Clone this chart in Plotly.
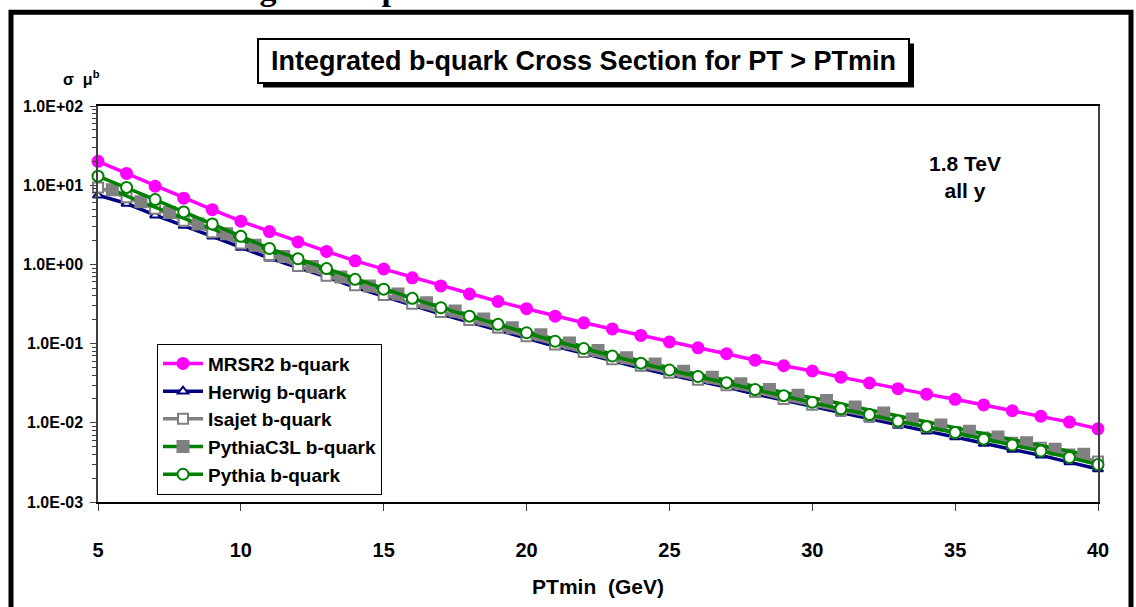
import plotly.graph_objects as go

# PTmin (GeV)
pt = list(range(5, 41))
pt_half = [x + 0.5 for x in range(5, 40)]

mrsr2 = [20.0, 14.1, 9.7, 6.85, 4.91, 3.51, 2.60, 1.92, 1.46, 1.11,
         0.875, 0.677, 0.535, 0.423, 0.340, 0.276, 0.222, 0.183, 0.153, 0.127,
         0.105, 0.0885, 0.0746, 0.0617, 0.0525, 0.0451, 0.0377, 0.0318, 0.0270, 0.0230,
         0.0198, 0.0168, 0.0142, 0.0121, 0.0102, 0.0084]
herwig = [7.46, 5.87, 4.18, 3.09, 2.26, 1.64, 1.20, 0.912, 0.695, 0.515,
          0.394, 0.306, 0.236, 0.187, 0.148, 0.117, 0.0927, 0.0753, 0.0604, 0.0491,
          0.0403, 0.0338, 0.0282, 0.0231, 0.0193, 0.0160, 0.0132, 0.0111, 0.00923, 0.00785,
          0.00662, 0.00547, 0.00461, 0.00388, 0.00321, 0.00261]
isajet = [9.37, 7.05, 5.06, 3.57, 2.55, 1.83, 1.31, 0.957, 0.721, 0.546,
          0.411, 0.318, 0.251, 0.198, 0.160, 0.124, 0.0972, 0.0781, 0.0634, 0.0525,
          0.0427, 0.0349, 0.0297, 0.0246, 0.0200, 0.0169, 0.0145, 0.0122, 0.0103, 0.00893,
          0.00764, 0.00653, 0.00558, 0.00484, 0.00397, 0.00325]
pythia_c3l = [8.75, 6.17, 4.51, 3.24, 2.43, 1.75, 1.26, 0.944, 0.691, 0.535,
              0.423, 0.327, 0.258, 0.204, 0.159, 0.129, 0.102, 0.0820, 0.0665, 0.0551,
              0.0448, 0.0377, 0.0312, 0.0263, 0.0223, 0.0191, 0.0158, 0.0133, 0.0112, 0.00937,
              0.00783, 0.00661, 0.00561, 0.00464, 0.00400]
pythia = [13.0, 9.37, 6.59, 4.60, 3.24, 2.26, 1.59, 1.18, 0.885, 0.648,
          0.487, 0.373, 0.284, 0.222, 0.175, 0.137, 0.107, 0.0867, 0.0697, 0.0566,
          0.0464, 0.0384, 0.0321, 0.0263, 0.0220, 0.0182, 0.0150, 0.0127, 0.0105, 0.00893,
          0.00753, 0.00622, 0.00525, 0.00441, 0.00365, 0.00297]

y_tickvals = [1e-3, 1e-2, 1e-1, 1e0, 1e1, 1e2]
y_ticktext = ['1.0E-03', '1.0E-02', '1.0E-01', '1.0E+00', '1.0E+01', '1.0E+02']

FONT = 'Liberation Sans'
# plot area in pixels
L, R, T, B = 98, 1098, 106, 511


def px(x):
    return (x - L) / (R - L)


def py(y):
    return (B - y) / (B - T)


def trace(x, y, name, color, symbol, msize, mcolor, mline):
    return go.Scatter(x=x, y=y, name=name, mode='lines+markers',
                      legendgroup=name, cliponaxis=False,
                      line=dict(color=color, width=3.5),
                      marker=dict(symbol=symbol, size=msize, color=mcolor,
                                  line=dict(color=mline, width=2)))


plots = [
    trace(pt, mrsr2, 'MRSR2 b-quark', '#FF00FF', 'circle', 11, '#FF00FF', '#FF00FF'),
    trace(pt, herwig, 'Herwig b-quark', '#000080', 'triangle-up', 9, 'white', '#000080'),
    trace(pt, isajet, 'Isajet b-quark', '#808080', 'square', 10, 'white', '#808080'),
    trace(pt_half, pythia_c3l, 'PythiaC3L b-quark', '#008000', 'square', 11, '#808080', '#808080'),
    trace(pt, pythia, 'Pythia b-quark', '#008000', 'circle', 11, 'white', '#008000'),
]

fig = go.Figure(data=plots)

shapes = [
    # slide frame
    dict(type='rect', xref='paper', yref='paper', x0=px(11), x1=px(1131), y0=py(10), y1=py(650),
         line=dict(color='black', width=5), fillcolor='rgba(0,0,0,0)'),
    # title box shadow
    dict(type='rect', xref='paper', yref='paper', x0=px(263), x1=px(914), y0=py(42), y1=py(87),
         line=dict(width=0), fillcolor='black', layer='below'),
]

annotations = [
    # slide heading, mostly above the picture's top edge
    dict(text='Integrated Spectra', xref='paper', yref='paper',
         x=px(200), y=py(6), xanchor='left', yanchor='bottom',
         showarrow=False, borderpad=0,
         font=dict(family='Liberation Serif', size=34, color='black', weight='bold')),
    dict(text='Integrated b-quark Cross Section for PT > PTmin', xref='paper', yref='paper',
         x=px(583), y=py(59.5), xanchor='center', yanchor='middle', showarrow=False,
         width=647, height=40, bgcolor='white', bordercolor='black', borderwidth=2, borderpad=1,
         font=dict(family=FONT, size=27, color='black', weight='bold')),
    dict(text='σ  μ<sup>b</sup>', xref='paper', yref='paper', x=px(61), y=py(77),
         xanchor='left', yanchor='middle',
         showarrow=False, font=dict(family=FONT, size=16, color='black', weight='bold')),
    dict(text='1.8 TeV<br>all y', xref='paper', yref='paper', x=px(965), y=py(179),
         xanchor='center', yanchor='middle', showarrow=False, align='center',
         font=dict(family=FONT, size=21, color='black', weight='bold')),
]

fig.update_layout(
    width=1136, height=607,
    margin=dict(l=L, r=1136 - R, t=T, b=607 - B),
    paper_bgcolor='white', plot_bgcolor='white',
    font=dict(family=FONT, color='black'),
    showlegend=True,
    legend=dict(x=px(157), y=py(349), xanchor='left', yanchor='top',
                bgcolor='white', bordercolor='black', borderwidth=1,
                font=dict(family=FONT, size=19, color='black', weight='bold'),
                itemwidth=40, tracegroupgap=8, traceorder='normal'),
    xaxis=dict(range=[5, 40], tickvals=[5, 10, 15, 20, 25, 30, 35, 40],
               showgrid=False, zeroline=False,
               showline=True, linecolor='black', linewidth=1.5, mirror=True,
               ticks='outside', ticklen=7, tickcolor='#404040',
               ticklabelstandoff=22,
               tickfont=dict(family=FONT, size=20, color='black', weight='bold'),
               title=dict(text='PTmin  (GeV)', standoff=20,
                          font=dict(family=FONT, size=21, color='black', weight='bold'))),
    yaxis=dict(type='log', range=[-3, 2], tickvals=y_tickvals, ticktext=y_ticktext,
               showgrid=False, zeroline=False,
               showline=True, linecolor='#404040', linewidth=1.5, mirror=True,
               ticks='outside', ticklen=6, tickcolor='#404040', ticklabelstandoff=4,
               minor=dict(ticks='outside', ticklen=4, tickcolor='#404040', dtick='D1', showgrid=False),
               tickfont=dict(family=FONT, size=16, color='black', weight='bold')),
    shapes=shapes,
    annotations=annotations,
)

fig.write_html("out.html", config={'displayModeBar': False},
               post_script="document.body.style.margin='0px';")
